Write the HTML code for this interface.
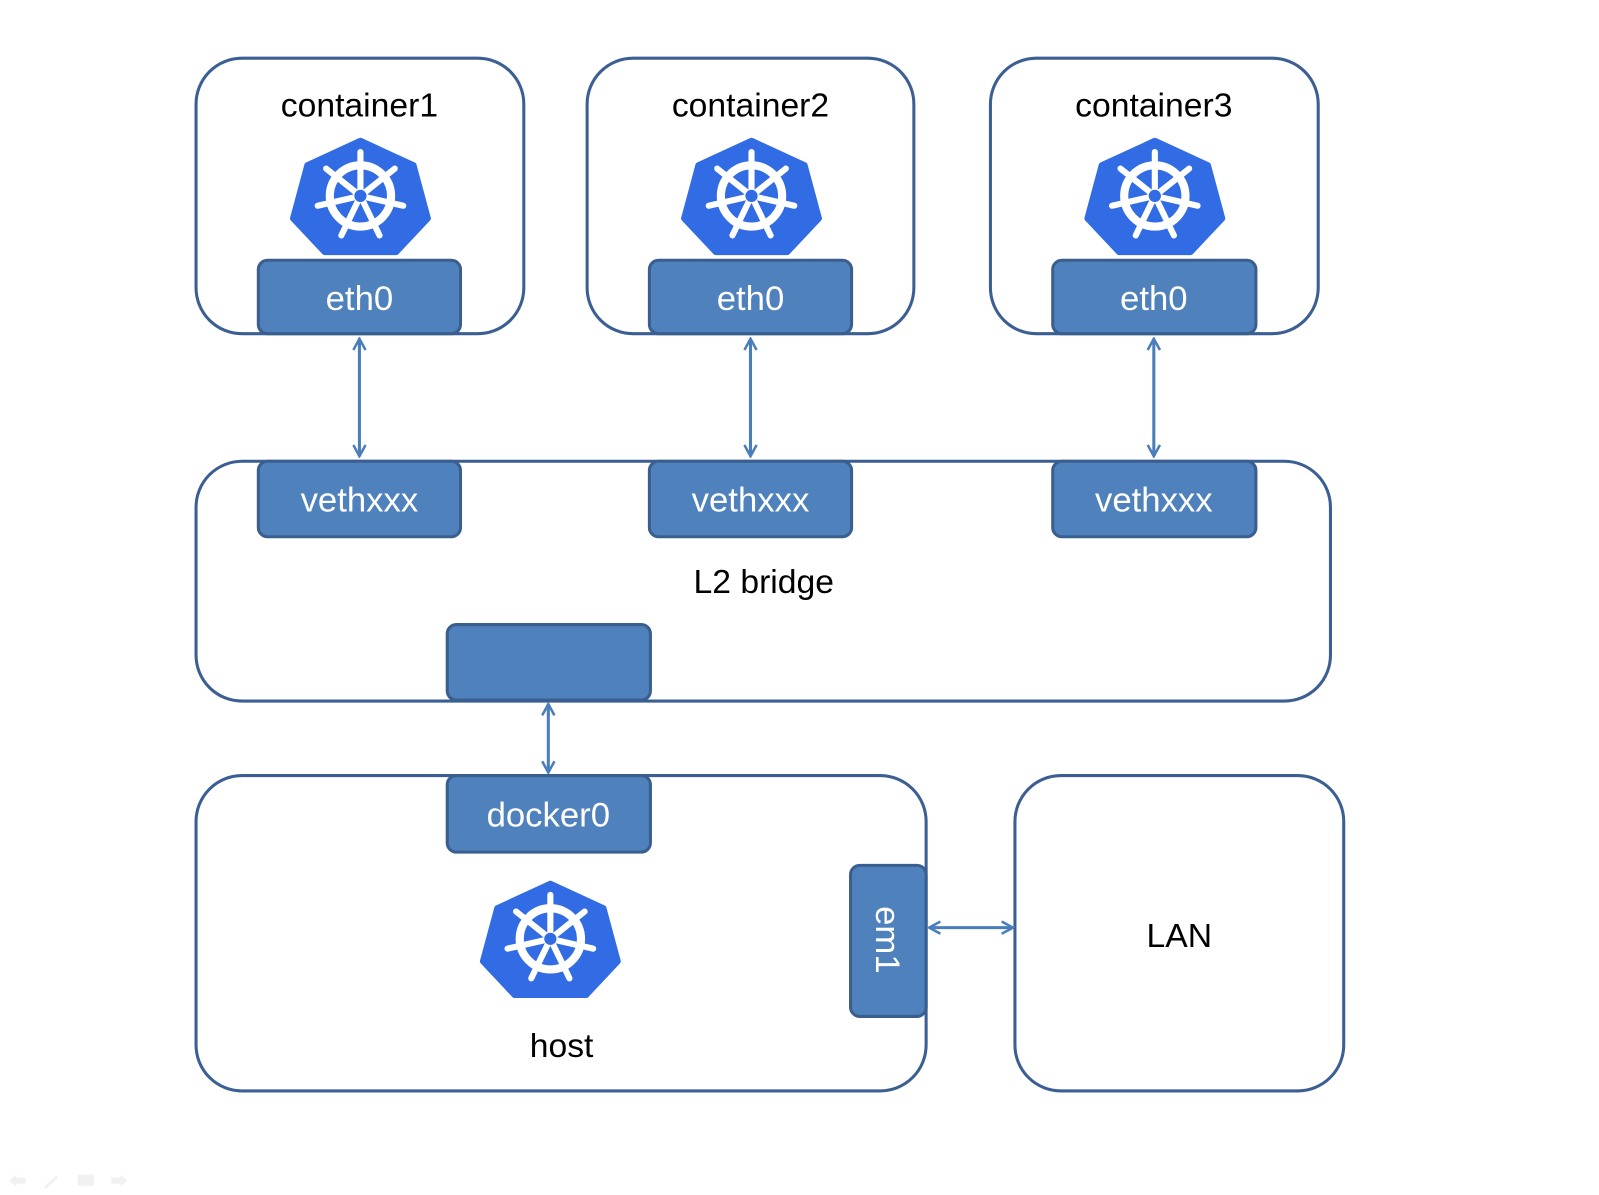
<!DOCTYPE html>
<html><head><meta charset="utf-8"><style>
html,body{margin:0;padding:0;background:#fff;}
svg{display:block;}
text{font-family:"Liberation Sans",sans-serif;}
</style></head><body>
<svg width="1599" height="1195" viewBox="0 0 1566 1171" preserveAspectRatio="none" xmlns="http://www.w3.org/2000/svg">
<defs>
<symbol id="k8s" viewBox="-70 -55 140 110" overflow="visible">
<polygon points="0,-54 52,-30 66,22 35,55 -35,55 -66,22 -52,-30" fill="#326ce5" stroke="#326ce5" stroke-width="6" stroke-linejoin="round"/>
<g stroke="#fff" fill="none" stroke-linecap="round">
<circle r="30" stroke-width="8"/>
<g stroke-width="6">
<line x1="0" y1="0" x2="0" y2="-43"/>
<line x1="0" y1="0" x2="33.6" y2="-26.8"/>
<line x1="0" y1="0" x2="41.9" y2="9.6"/>
<line x1="0" y1="0" x2="18.7" y2="38.7"/>
<line x1="0" y1="0" x2="-18.7" y2="38.7"/>
<line x1="0" y1="0" x2="-41.9" y2="9.6"/>
<line x1="0" y1="0" x2="-33.6" y2="-26.8"/>
</g>
</g>
<circle r="6" fill="#326ce5"/>
</symbol>
<marker id="ah" viewBox="0 0 14 14" refX="12" refY="7" markerWidth="14" markerHeight="14" orient="auto-start-reverse" markerUnits="userSpaceOnUse">
<path d="M1,1 L12,7 L1,13" fill="none" stroke="#4a7ebb" stroke-width="2.5"/>
</marker>
</defs>
<g fill="#fff" stroke="#3c5f93" stroke-width="3">
<rect x="192" y="57" width="321" height="270" rx="45"/>
<rect x="575" y="57" width="320" height="270" rx="45"/>
<rect x="970" y="57" width="321" height="270" rx="45"/>
<rect x="192" y="452" width="1111" height="235" rx="45"/>
<rect x="192" y="760" width="715" height="309" rx="45"/>
<rect x="994" y="760" width="322" height="309" rx="45"/>
</g>
<g font-size="33" text-anchor="middle" fill="#000">
<text x="352" y="114">container1</text>
<text x="735" y="114">container2</text>
<text x="1130" y="114">container3</text>
<text x="748" y="581">L2 bridge</text>
<text x="550" y="1036">host</text>
<text x="1155" y="928">LAN</text>
</g>
<use href="#k8s" x="283" y="137" width="140" height="110"/>
<use href="#k8s" x="666" y="137" width="140" height="110"/>
<use href="#k8s" x="1061" y="137" width="140" height="110"/>
<use href="#k8s" x="469" y="865" width="140" height="110"/>
<g fill="#4f81bd" stroke="#3a5f8f" stroke-width="3">
<rect x="253" y="255" width="198" height="72" rx="9"/>
<rect x="636" y="255" width="198" height="72" rx="9"/>
<rect x="1031" y="255" width="199" height="72" rx="9"/>
<rect x="253" y="452" width="198" height="74" rx="9"/>
<rect x="636" y="452" width="198" height="74" rx="9"/>
<rect x="1031" y="452" width="199" height="74" rx="9"/>
<rect x="438" y="612" width="199" height="74" rx="9"/>
<rect x="438" y="760" width="199" height="75" rx="9"/>
<rect x="833" y="848" width="74" height="148" rx="9"/>
</g>
<g font-size="34" text-anchor="middle" fill="#fff">
<text x="352" y="304">eth0</text>
<text x="735" y="304">eth0</text>
<text x="1130" y="304">eth0</text>
<text x="352" y="501">vethxxx</text>
<text x="735" y="501">vethxxx</text>
<text x="1130" y="501">vethxxx</text>
<text x="537" y="810">docker0</text>
<text transform="translate(858,921) rotate(90)">em1</text>
</g>
<g stroke="#4a7ebb" stroke-width="3" marker-start="url(#ah)" marker-end="url(#ah)">
<line x1="352" y1="332" x2="352" y2="447"/>
<line x1="735" y1="332" x2="735" y2="447"/>
<line x1="1130" y1="332" x2="1130" y2="447"/>
<line x1="537" y1="690" x2="537" y2="757"/>
<line x1="910" y1="909" x2="992" y2="909"/>
</g>
<g fill="#eee" stroke="none" opacity="0.8">
<path d="M9,1157 l7,-6 v3 h9 v6 h-9 v3 z"/>
<path d="M43,1163 l12,-11 l2,2 l-12,11 z"/>
<rect x="76" y="1151" width="16" height="11" rx="2"/>
<path d="M125,1157 l-7,-6 v3 h-9 v6 h9 v3 z"/>
</g>
</svg>
</body></html>
